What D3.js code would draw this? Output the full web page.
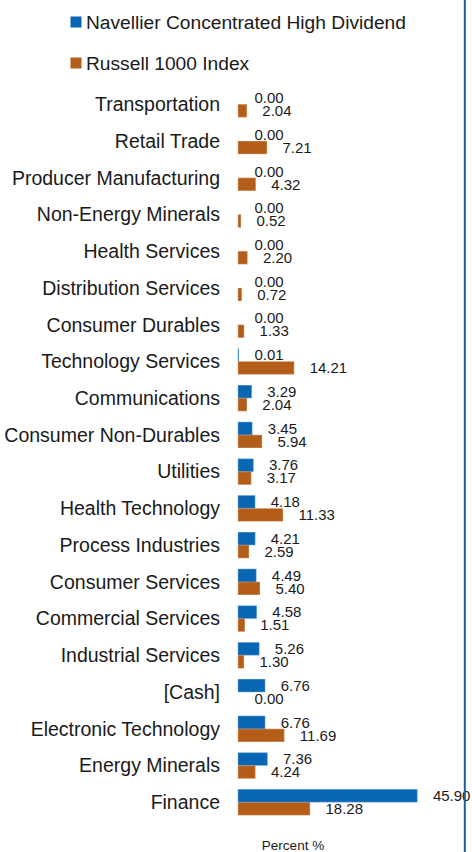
<!DOCTYPE html>
<html>
<head>
<meta charset="utf-8">
<script src="https://cdn.jsdelivr.net/npm/d3@7"></script>
<style>
  html, body { margin: 0; padding: 0; background: #fff; }
  svg { display: block; }
  text { font-family: "Liberation Sans", Arial, sans-serif; fill: #1a1a1a; }
</style>
</head>
<body>
<svg id="chart" width="472" height="852"></svg>
<script>
const categories = [
  "Transportation", "Retail Trade", "Producer Manufacturing", "Non-Energy Minerals",
  "Health Services", "Distribution Services", "Consumer Durables", "Technology Services",
  "Communications", "Consumer Non-Durables", "Utilities", "Health Technology",
  "Process Industries", "Consumer Services", "Commercial Services", "Industrial Services",
  "[Cash]", "Electronic Technology", "Energy Minerals", "Finance"
];
const navellier = [0.00, 0.00, 0.00, 0.00, 0.00, 0.00, 0.00, 0.01, 3.29, 3.45, 3.76, 4.18, 4.21, 4.49, 4.58, 5.26, 6.76, 6.76, 7.36, 45.90];
const russell = [2.04, 7.21, 4.32, 0.52, 2.20, 0.72, 1.33, 14.21, 2.04, 5.94, 3.17, 11.33, 2.59, 5.40, 1.51, 1.30, 0.00, 11.69, 4.24, 18.28];
const seriesNames = ["Navellier Concentrated High Dividend", "Russell 1000 Index"];
const axisTitle = "Percent %";

const colors = ["#0866b2", "#b45d19"];
const svg = d3.select("#chart");

const x = d3.scaleLinear().domain([0, 50]).range([238.4, 238.4 + 50 * 3.889]);
const y = d3.scalePoint().domain(categories).range([104.3, 802.3]);
const barH = 13;

const series = [navellier, russell];

// legend
const legend = svg.append("g");
seriesNames.forEach((name, i) => {
  const ly = 22 + i * 41;
  legend.append("rect").attr("x", 70.5).attr("y", ly - 5.5).attr("width", 11).attr("height", 11).attr("fill", colors[i]);
  legend.append("text").attr("x", 86).attr("y", ly).attr("dy", "0.35em").attr("font-size", 19.2).text(name);
});

// category labels
svg.append("g").selectAll("text").data(categories).join("text")
  .attr("x", 220).attr("y", d => y(d)).attr("dy", "0.35em")
  .attr("text-anchor", "end").attr("font-size", 19.5).text(d => d);

// bars & value labels
series.forEach((vals, si) => {
  const g = svg.append("g");
  const data = categories.map((c, i) => ({ c, v: vals[i] }));
  g.selectAll("rect").data(data.filter(d => d.v > 0)).join("rect")
    .attr("x", x(0))
    .attr("y", d => y(d.c) - barH + si * barH + 0.5)
    .attr("width", d => x(d.v) - x(0))
    .attr("height", barH - 1)
    .attr("fill", colors[si])
    .attr("stroke", colors[si]).attr("stroke-width", 1.2).attr("stroke-opacity", 0.7);
  g.selectAll("text").data(data).join("text")
    .attr("x", d => x(d.v) + 16)
    .attr("y", d => y(d.c) - barH / 2 + si * barH)
    .attr("dy", "0.35em")
    .attr("font-size", 15)
    .text(d => d3.format(".2f")(d.v));
});

// axis title
svg.append("text").attr("x", 293).attr("y", 845).attr("dy", "0.35em")
  .attr("text-anchor", "middle").attr("font-size", 13.5).text(axisTitle);

// right border line
svg.append("line").attr("x1", 464.8).attr("x2", 464.8).attr("y1", 0).attr("y2", 852)
  .attr("stroke", "#1f5c9c").attr("stroke-width", 2);
</script>
</body>
</html>
